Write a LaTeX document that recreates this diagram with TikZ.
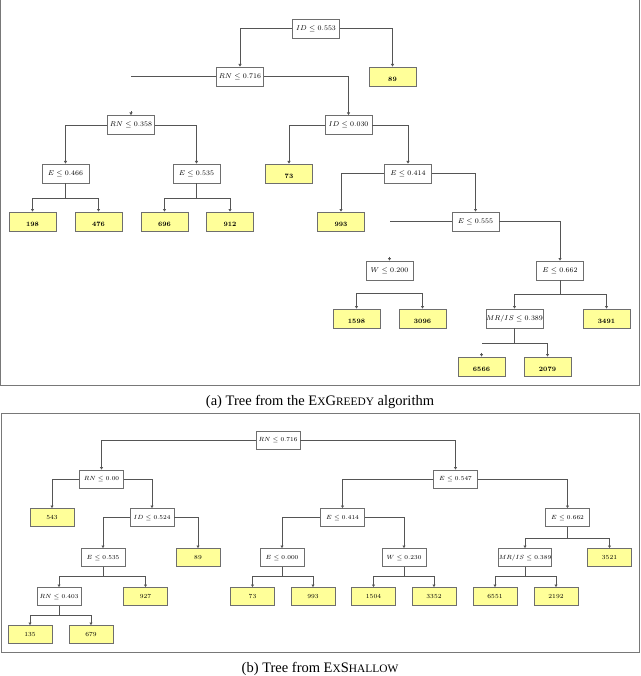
\documentclass[tikz,border=0pt]{standalone}
\usepackage{fontspec}
\newfontfamily\capfont{Liberation Serif}
\usetikzlibrary{arrows.meta}
\definecolor{leafyel}{RGB}{255,255,153}
\definecolor{boxgray}{RGB}{110,110,110}
\definecolor{linegray}{RGB}{85,85,85}
\definecolor{framegray}{RGB}{120,120,120}
\tikzset{
  dec/.style={draw=boxgray, line width=0.8pt, fill=white, minimum width=47pt, minimum height=19pt, inner sep=0pt, font=\fontsize{6.6}{7.5}\selectfont},
  leaf/.style={dec, fill=leafyel, text height=10.9pt, text depth=0pt, font=\fontsize{6.6}{7.5}\selectfont\bfseries},
  decb/.style={dec, minimum width=44pt, minimum height=18pt, font=\fontsize{6.2}{7}\selectfont},
  leafb/.style={decb, fill=leafyel},
  line/.style={draw=linegray, line width=0.75pt},
  edge/.style={line, -{Triangle[length=2.6pt,width=3pt]}},
  frame/.style={draw=framegray, line width=1pt},
  captext/.style={font=\capfont\fontsize{14.5}{16}\selectfont, inner sep=0pt}
}
\newcommand{\smc}[1]{{\fontsize{11.4}{12}\selectfont #1}}
\begin{document}
\begin{tikzpicture}[x=1pt,y=-1pt]
\useasboundingbox (0,0) rectangle (640,676);
% frames
\draw[frame] (0.5,0) -- (0.5,385) -- (639,385) -- (639,0);
\draw[frame] (1,413) rectangle (639,652);
% ---------------- top tree ----------------
\node[dec] (t1) at (316,28.5) {$ID \leq 0.553$};
\node[dec] (t2) at (240,76.5) {$RN \leq 0.716$};
\node[leaf] (t89) at (392.5,76.5) {89};
\node[dec] (t3) at (131,125) {$RN \leq 0.358$};
\node[dec] (t4) at (348.5,125) {$ID \leq 0.030$};
\node[dec] (t5) at (65.5,173.5) {$E \leq 0.466$};
\node[dec] (t6) at (196.5,173.5) {$E \leq 0.535$};
\node[leaf] (t73) at (289,173.5) {73};
\node[dec] (t7) at (408,173.5) {$E \leq 0.414$};
\node[leaf] (t198) at (32.5,221.5) {198};
\node[leaf] (t476) at (98.5,221.5) {476};
\node[leaf] (t696) at (164.5,221.5) {696};
\node[leaf] (t912) at (230,221.5) {912};
\node[leaf] (t993) at (341,221.5) {993};
\node[dec] (t8) at (475.5,221.5) {$E \leq 0.555$};
\node[dec] (t9) at (389.5,270.5) {$W \leq 0.200$};
\node[dec] (t10) at (560,270.5) {$E \leq 0.662$};
\node[leaf] (t1598) at (356.5,318.5) {1598};
\node[leaf] (t3096) at (422.5,318.5) {3096};
\node[dec] (t11) at (514.5,318.5) {$MR/IS \leq 0.389$};
\node[leaf] (t3491) at (606.5,318.5) {3491};
\node[leaf] (t6566) at (481.5,366.5) {6566};
\node[leaf] (t2079) at (547.5,366.5) {2079};
% top edges
\draw[edge] (t1.west) -| (t2.north);
\draw[edge] (t1.east) -| (t89.north);
\draw[line] (t2.west) -- (t2.west -| t3.north);
\draw[edge] ([yshift=4pt]t3.north) -- (t3.north);
\draw[edge] (t2.east) -| (t4.north);
\draw[edge] (t3.west) -| (t5.north);
\draw[edge] (t3.east) -| (t6.north);
\draw[edge] (t4.west) -| (t73.north);
\draw[edge] (t4.east) -| (t7.north);
\draw[edge] (t5.south) -- ++(0,14.5) -| (t198.north);
\draw[edge] (t5.south) -- ++(0,14.5) -| (t476.north);
\draw[edge] (t6.south) -- ++(0,14.5) -| (t696.north);
\draw[edge] (t6.south) -- ++(0,14.5) -| (t912.north);
\draw[edge] (t7.west) -| (t993.north);
\draw[edge] (t7.east) -| (t8.north);
\draw[line] (t8.west) -- (t8.west -| t9.north);
\draw[edge] ([yshift=4pt]t9.north) -- (t9.north);
\draw[edge] (t8.east) -| (t10.north);
\coordinate (wj) at (389.5,293.5);
\draw[edge] (wj) -| (t1598.north);
\draw[edge] (wj) -| (t3096.north);
\draw[edge] (t10.south) -- ++(0,14) -| (t11.north);
\draw[edge] (t10.south) -- ++(0,14) -| (t3491.north);
\draw[line] (t11.south) -- ++(0,14.5) coordinate (mj);
\draw[line] (mj) -- (mj -| t6566.north);
\draw[edge] (mj) -| (t2079.north);
\draw[edge] ([yshift=4pt]t6566.north) -- (t6566.north);
% caption a
\node[captext] (capa) at (320,402) {(a) Tree from the E\smc{X}G\smc{REEDY} algorithm};
% ---------------- bottom tree ----------------
\node[decb] (b1) at (278,440) {$RN \leq 0.716$};
\node[decb] (b2) at (101.5,479) {$RN \leq 0.00$};
\node[decb] (b3) at (455.5,479) {$E \leq 0.547$};
\node[leafb] (b543) at (52,517.5) {543};
\node[decb] (b4) at (152,517.5) {$ID \leq 0.524$};
\node[decb] (b5) at (342.5,517.5) {$E \leq 0.414$};
\node[decb] (b6) at (567.5,517.5) {$E \leq 0.662$};
\node[decb] (b7) at (103,557.5) {$E \leq 0.535$};
\node[leafb] (b89) at (198,557.5) {89};
\node[decb] (b8) at (282,557.5) {$E \leq 0.000$};
\node[decb] (b9) at (404,557.5) {$W \leq 0.230$};
\node[decb] (b10) at (525,557.5) {$MR/IS \leq 0.389$};
\node[leafb] (b3521) at (609.5,557.5) {3521};
\node[decb] (b11) at (59,596.5) {$RN \leq 0.403$};
\node[leafb] (b927) at (145.5,596.5) {927};
\node[leafb] (b73) at (252.5,596.5) {73};
\node[leafb] (b993) at (313,596.5) {993};
\node[leafb] (b1504) at (373.5,596.5) {1504};
\node[leafb] (b3352) at (434,596.5) {3352};
\node[leafb] (b6551) at (495,596.5) {6551};
\node[leafb] (b2192) at (556,596.5) {2192};
\node[leafb] (b135) at (30,634.5) {135};
\node[leafb] (b679) at (91,634.5) {679};
% bottom edges
\draw[edge] (b1.west) -| (b2.north);
\draw[edge] (b1.east) -| (b3.north);
\draw[edge] (b2.west) -| (b543.north);
\draw[edge] (b2.east) -| (b4.north);
\draw[edge] (b3.west) -| (b5.north);
\draw[edge] (b3.east) -| (b6.north);
\draw[edge] (b4.west) -| (b7.north);
\draw[edge] (b4.east) -| (b89.north);
\draw[edge] (b5.west) -| (b8.north);
\draw[edge] (b5.east) -| (b9.north);
\draw[edge] (b6.south) -- ++(0,11) -| (b10.north);
\draw[edge] (b6.south) -- ++(0,11) -| (b3521.north);
\draw[edge] (b7.south) -- ++(0,9.5) -| (b11.north);
\draw[edge] (b7.south) -- ++(0,9.5) -| (b927.north);
\draw[edge] (b8.south) -- ++(0,9.5) -| (b73.north);
\draw[edge] (b8.south) -- ++(0,9.5) -| (b993.north);
\draw[edge] (b9.south) -- ++(0,9.5) -| (b1504.north);
\draw[edge] (b9.south) -- ++(0,9.5) -| (b3352.north);
\draw[edge] (b10.south) -- ++(0,9.5) -| (b6551.north);
\draw[edge] (b10.south) -- ++(0,9.5) -| (b2192.north);
\draw[edge] (b11.south) -- ++(0,9.5) -| (b135.north);
\draw[edge] (b11.south) -- ++(0,9.5) -| (b679.north);
% caption b
\node[captext] (capb) at (320,669) {(b) Tree from E\smc{X}S\smc{HALLOW}};
\end{tikzpicture}
\end{document}
